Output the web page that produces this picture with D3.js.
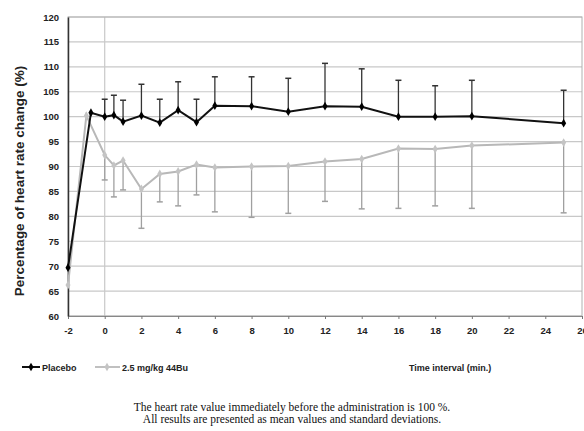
<!DOCTYPE html>
<html>
<head>
<meta charset="utf-8">
<script src="https://cdn.jsdelivr.net/npm/d3@7"></script>
<style>
  body { margin: 0; background: #fff; }
  svg text { font-family: "Liberation Sans", Arial, sans-serif; }
</style>
</head>
<body>
<div class="graph-container"></div>
<script>
// data
const placeboX = [-2, -0.75, 0, 0.5, 1, 2, 3, 4, 5, 6, 8, 10, 12, 14, 16, 18, 20, 25];
const placeboY = [69.7, 100.8, 100, 100.3, 99, 100.2, 98.8, 101.3, 98.9, 102.2, 102.1, 101, 102.1, 102, 100, 100, 100.1, 98.7];
const placeboTop = [null, null, 103.5, 104.3, 103.3, 106.5, 103.5, 107, 103.5, 108, 108, 107.7, 110.7, 109.6, 107.3, 106.2, 107.3, 105.3];

const drugX = [-2, -1, 0, 0.5, 1, 2, 3, 4, 5, 6, 8, 10, 12, 14, 16, 18, 20, 25];
const drugY = [66.2, 100.2, 92.3, 90.2, 91.2, 85.5, 88.5, 89, 90.4, 89.8, 90, 90.1, 91, 91.5, 93.6, 93.5, 94.2, 94.8];
const drugBottom = [null, null, 87.3, 83.9, 85.3, 77.6, 82.9, 82.1, 84.3, 80.9, 79.8, 80.6, 83, 81.5, 81.6, 82.1, 81.6, 80.7];

const xTicks = [-2, 0, 2, 4, 6, 8, 10, 12, 14, 16, 18, 20, 22, 24, 26];
const yTicks = [60, 65, 70, 75, 80, 85, 90, 95, 100, 105, 110, 115, 120];

const dims = { width: 584, height: 431 };
const plot = { left: 68, right: 582, top: 17, bottom: 316 };
const boldFont = "'DejaVu Sans', sans-serif";

const svg = d3.select(".graph-container").append("svg")
  .attr("width", dims.width).attr("height", dims.height);

const x = d3.scaleLinear().domain([-2, 26]).range([plot.left, plot.right]);
const y = d3.scaleLinear().domain([60, 120]).range([plot.bottom, plot.top]);

// gridlines
svg.append("g").selectAll("line").data(yTicks).enter().append("line")
  .attr("x1", plot.left).attr("x2", plot.right)
  .attr("y1", d => y(d)).attr("y2", d => y(d))
  .attr("stroke", "#c8c8c8").attr("stroke-width", 1.2);

// vertical line at time 0
svg.append("line")
  .attr("x1", x(0)).attr("x2", x(0)).attr("y1", plot.top).attr("y2", plot.bottom)
  .attr("stroke", "#c8c8c8").attr("stroke-width", 1.2);

// frame
svg.append("rect")
  .attr("x", plot.left).attr("y", plot.top)
  .attr("width", plot.right - plot.left).attr("height", plot.bottom - plot.top)
  .attr("fill", "none").attr("stroke", "#b0b0b0").attr("stroke-width", 1);

// axes
const xAxis = svg.append("g").attr("transform", `translate(0,${plot.bottom})`)
  .call(d3.axisBottom(x).tickValues(xTicks).tickFormat(d => String(d)).tickSize(3).tickPadding(8));
const yAxis = svg.append("g").attr("transform", `translate(${plot.left},0)`)
  .call(d3.axisLeft(y).tickValues(yTicks).tickSize(0).tickPadding(9));

[xAxis, yAxis].forEach(a => {
  a.selectAll("text").attr("font-size", 9.5).attr("font-weight", "bold").attr("fill", "#222")
    .attr("font-family", boldFont);
  a.selectAll("line").attr("stroke", "#777");
});
xAxis.select(".domain").attr("stroke", "#888");
yAxis.select(".domain").attr("stroke", "#333").attr("stroke-width", 1.5);

// y label
svg.append("text")
  .attr("transform", `translate(24,181) rotate(-90)`)
  .attr("text-anchor", "middle")
  .attr("font-family", boldFont)
  .attr("font-size", 13.5).attr("font-weight", "bold").attr("fill", "#222")
  .text("Percentage of heart rate change (%)");

let series = [
  { xs: drugX, ys: drugY, err: drugBottom, line: "#b8b8b8", bar: "#a0a0a0", mark: "#c4c4c4" },
  { xs: placeboX, ys: placeboY, err: placeboTop, line: "#111", bar: "#333", mark: "#000" }
];

series.forEach(s => {
  let pts = s.xs.map((d, i) => ({ x: d, y: s.ys[i], e: s.err[i] }));
  let bars = pts.filter(p => p.e != null);
  let g = svg.append("g");

  g.selectAll(".bar").data(bars).enter().append("line")
    .attr("x1", d => x(d.x)).attr("x2", d => x(d.x))
    .attr("y1", d => y(d.y)).attr("y2", d => y(d.e))
    .attr("stroke", s.bar).attr("stroke-width", 1.3);
  g.selectAll(".cap").data(bars).enter().append("line")
    .attr("x1", d => x(d.x) - 3).attr("x2", d => x(d.x) + 3)
    .attr("y1", d => y(d.e)).attr("y2", d => y(d.e))
    .attr("stroke", s.bar).attr("stroke-width", 1.5);

  g.append("path").datum(pts)
    .attr("d", d3.line().x(d => x(d.x)).y(d => y(d.y)))
    .attr("fill", "none").attr("stroke", s.line).attr("stroke-width", 2);

  g.selectAll(".pt").data(pts).enter().append("path")
    .attr("d", d3.symbol().type(d3.symbolDiamond).size(22))
    .attr("transform", d => `translate(${x(d.x)},${y(d.y)})`)
    .attr("fill", s.mark);
});

// legend
const legend = svg.append("g").attr("transform", "translate(0,367)");
legend.append("line").attr("x1", 22).attr("x2", 40).attr("y1", 0).attr("y2", 0)
  .attr("stroke", "#111").attr("stroke-width", 2);
legend.append("path").attr("d", d3.symbol().type(d3.symbolDiamond).size(22))
  .attr("transform", "translate(31,0)").attr("fill", "#000");
legend.append("text").attr("x", 42).attr("y", 3.5).attr("font-size", 9).attr("font-weight", "bold")
  .attr("fill", "#222").text("Placebo");
legend.append("line").attr("x1", 95).attr("x2", 120).attr("y1", 0).attr("y2", 0)
  .attr("stroke", "#c0c0c0").attr("stroke-width", 2);
legend.append("path").attr("d", d3.symbol().type(d3.symbolDiamond).size(22))
  .attr("transform", "translate(107,0)").attr("fill", "#c4c4c4");
legend.append("text").attr("x", 122).attr("y", 3.5).attr("font-size", 9).attr("font-weight", "bold")
  .attr("fill", "#222").text("2.5 mg/kg 44Bu");
legend.append("text").attr("x", 409).attr("y", 3.5).attr("font-size", 9).attr("font-weight", "bold")
  .attr("fill", "#222").text("Time interval (min.)");

// caption
const caption = ["The heart rate value immediately before the administration is 100 %.",
  "All results are presented as mean values and standard deviations."];
svg.append("g").selectAll("text").data(caption).enter().append("text")
  .attr("x", 292).attr("y", (d, i) => 411 + i * 12)
  .attr("text-anchor", "middle")
  .style("font-family", "'Liberation Serif', 'Times New Roman', serif")
  .attr("font-size", 11.5).attr("fill", "#111")
  .text(d => d);
</script>
</body>
</html>
